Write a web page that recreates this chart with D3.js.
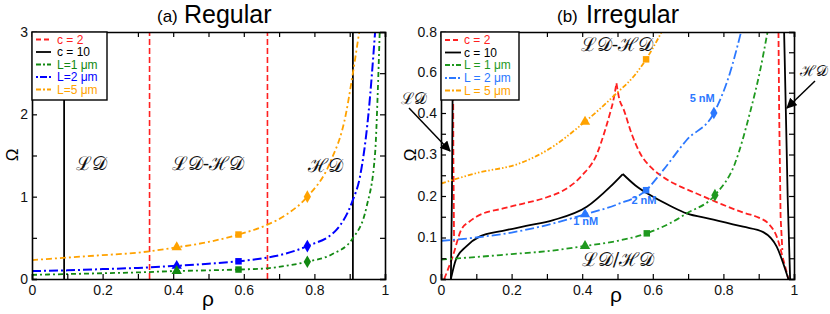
<!DOCTYPE html>
<html>
<head>
<meta charset="utf-8">
<script src="https://cdn.jsdelivr.net/npm/d3@7"></script>
<style>
  body { margin: 0; background: #fff; }
  svg { display: block; font-family: 'Liberation Sans', Arial, sans-serif; }
</style>
</head>
<body>
<svg width="830" height="314"></svg>
<script>
// ---------- data ----------
// panel (a): phase boundaries (vertical lines), rho positions
let aC2Lines = [0.333, 0.667];
let aC10Lines = [0.091, 0.909];

// panel (a): Omega vs rho for the three lengths
let aL1 = [[0, 0.05], [0.1, 0.06], [0.2, 0.07], [0.3, 0.08], [0.41, 0.097], [0.5, 0.105], [0.585, 0.115], [0.667, 0.13], [0.72, 0.16], [0.78, 0.21], [0.85, 0.30], [0.908, 0.49], [0.948, 0.88], [0.972, 1.53], [0.979, 2.21], [0.985, 3.0]];
let aL2 = [[0, 0.097], [0.1, 0.105], [0.2, 0.12], [0.3, 0.135], [0.41, 0.16], [0.5, 0.185], [0.585, 0.215], [0.667, 0.26], [0.72, 0.31], [0.78, 0.40], [0.863, 0.6], [0.908, 0.95], [0.929, 1.24], [0.953, 2.0], [0.972, 3.0]];
let aL5 = [[0, 0.23], [0.1, 0.26], [0.2, 0.29], [0.3, 0.32], [0.41, 0.385], [0.5, 0.45], [0.585, 0.54], [0.667, 0.66], [0.72, 0.78], [0.78, 1.0], [0.844, 1.41], [0.89, 2.02], [0.906, 2.42], [0.927, 3.0]];

// panel (b): c = 2 and c = 10 boundaries (two branches each, plus near-vertical edges)
let bC2Left = [[0.009, 0], [0.033, 0.054], [0.057, 0.118], [0.08, 0.138], [0.10, 0.150], [0.176, 0.170], [0.224, 0.180], [0.30, 0.197], [0.35, 0.215], [0.40, 0.25], [0.441, 0.30], [0.465, 0.359], [0.479, 0.40], [0.488, 0.46], [0.497, 0.547]];
let bC2Right = [[0.497, 0.547], [0.505, 0.47], [0.517, 0.42], [0.54, 0.35], [0.564, 0.303], [0.60, 0.265], [0.63, 0.245], [0.68, 0.222], [0.724, 0.206], [0.79, 0.182], [0.856, 0.160], [0.90, 0.148], [0.927, 0.134], [0.951, 0.102], [0.97, 0.046], [0.984, 0]];
let bC2EdgeL = [[0.034, 0.8], [0.035, 0.3], [0.037, 0.09]];
let bC2EdgeR = [[0.956, 0.8], [0.958, 0.4], [0.962, 0.15], [0.967, 0.07]];
let bC10Left = [[0.028, 0], [0.042, 0.046], [0.071, 0.078], [0.109, 0.102], [0.175, 0.116], [0.241, 0.128], [0.318, 0.142], [0.413, 0.174], [0.479, 0.222], [0.515, 0.253]];
let bC10Right = [[0.515, 0.253], [0.55, 0.226], [0.601, 0.198], [0.65, 0.176], [0.696, 0.158], [0.762, 0.145], [0.856, 0.126], [0.913, 0.113], [0.951, 0.078], [0.984, 0]];
let bC10EdgeL = [[0.034, 0.8], [0.031, 0.2], [0.028, 0]];
let bC10EdgeR = [[0.972, 0.8], [0.977, 0.4], [0.982, 0.2], [0.989, 0]];

// panel (b): Omega vs rho for the three lengths
let bL1 = [[0, 0.047], [0.1, 0.053], [0.2, 0.06], [0.3, 0.067], [0.408, 0.0795], [0.5, 0.092], [0.583, 0.11], [0.65, 0.135], [0.696, 0.158], [0.776, 0.202], [0.833, 0.279], [0.875, 0.40], [0.904, 0.61], [0.925, 0.8]];
let bL2 = [[0, 0.092], [0.1, 0.10], [0.2, 0.112], [0.3, 0.13], [0.408, 0.156], [0.5, 0.18], [0.581, 0.214], [0.63, 0.263], [0.696, 0.335], [0.773, 0.40], [0.819, 0.60], [0.85, 0.80]];
let bL5 = [[0, 0.23], [0.1, 0.255], [0.224, 0.279], [0.3, 0.31], [0.408, 0.379], [0.45, 0.42], [0.497, 0.497], [0.545, 0.579], [0.581, 0.665], [0.625, 0.8]];

// markers: [rho, Omega, shape]
let aMarks1 = [[0.41, 0.097, 'tri'], [0.585, 0.115, 'sq'], [0.78, 0.21, 'dia']];
let aMarks2 = [[0.41, 0.16, 'tri'], [0.585, 0.215, 'sq'], [0.78, 0.40, 'dia']];
let aMarks5 = [[0.41, 0.385, 'tri'], [0.585, 0.54, 'sq'], [0.78, 1.0, 'dia']];
let bMarks1 = [[0.408, 0.0795, 'tri'], [0.583, 0.11, 'sq'], [0.776, 0.202, 'dia']];
let bMarks2 = [[0.408, 0.156, 'tri'], [0.581, 0.214, 'sq'], [0.773, 0.40, 'dia']];
let bMarks5 = [[0.408, 0.379, 'tri'], [0.581, 0.665, 'sq']];

// concentration labels on the L = 2 curve in (b)
let bConcLabels = [[0.41, 0.13, '1 nM'], [0.575, 0.18, '2 nM'], [0.74, 0.452, '5 nM']];

// tick values
let xTicks = d3.range(0, 1.01, 0.1);
let xLabels = [0, 0.2, 0.4, 0.6, 0.8, 1];
let aYTicks = [0, 0.5, 1, 1.5, 2, 2.5, 3];
let aYLabels = [0, 1, 2, 3];
let bYTicks = [0, 0.05, 0.1, 0.15, 0.2, 0.25, 0.3, 0.35, 0.4, 0.5, 0.6, 0.7, 0.8];
let bYLabels = [0, 0.1, 0.2, 0.3, 0.4, 0.6, 0.8];

// ---------- setup ----------
let svg = d3.select('svg');
let plotTop = 32, plotBottom = 279;

let colA = { red: '#ff2020', black: '#000', l1: '#118811', l2: '#0000ff', l5: '#ffa200' };
let colB = { red: '#ff2020', black: '#000', l1: '#1f991f', l2: '#2b78ff', l5: '#ffa200' };

let xa = d3.scaleLinear().domain([0, 1]).range([32, 385]);
let ya = d3.scaleLinear().domain([0, 3]).range([plotBottom, plotTop]);
let xb = d3.scaleLinear().domain([0, 1]).range([441, 794]);
// the (b) axis is stretched below 0.4
let yb = d3.scaleLinear().domain([0, 0.4, 0.8]).range([plotBottom, 113, plotTop]);

let fmt = d => d === 0 ? '0' : (Number.isInteger(d) ? d : d3.format('.1f')(d));

function drawAxes(g, x, y, yTicks, yLabels) {
    let x0 = x.range()[0], x1 = x.range()[1];
    g.append('g').attr('transform', 'translate(0,' + plotBottom + ')')
        .call(d3.axisBottom(x).tickValues(xTicks).tickSize(-5).tickPadding(6)
            .tickFormat(d => xLabels.some(v => Math.abs(v - d) < 1e-6) ? fmt(+d.toFixed(1)) : ''));
    g.append('g').attr('transform', 'translate(0,' + plotTop + ')')
        .call(d3.axisTop(x).tickValues(xTicks).tickSize(-5).tickFormat(''));
    g.append('g').attr('transform', 'translate(' + x0 + ',0)')
        .call(d3.axisLeft(y).tickValues(yTicks).tickSize(-5).tickPadding(4)
            .tickFormat(d => yLabels.indexOf(d) >= 0 ? fmt(d) : ''));
    g.append('g').attr('transform', 'translate(' + x1 + ',0)')
        .call(d3.axisRight(y).tickValues(yTicks).tickSize(-5).tickFormat(''));
    g.selectAll('.domain').attr('stroke', '#000').attr('stroke-width', 1.6);
    g.selectAll('.tick line').attr('stroke', '#000').attr('stroke-width', 1.2);
    g.selectAll('.tick text').attr('font-size', 14).attr('fill', '#111')
        .attr('font-family', 'Liberation Sans, Arial, sans-serif');
}

function drawLine(g, x, y, pts, color, dash, curve, w) {
    g.append('path')
        .datum(pts)
        .attr('fill', 'none')
        .attr('stroke', color)
        .attr('stroke-width', w || 1.8)
        .attr('stroke-dasharray', dash)
        .attr('d', d3.line().x(d => x(d[0])).y(d => y(d[1])).curve(curve || d3.curveMonotoneX));
}

let shapes = { tri: d3.symbolTriangle, sq: d3.symbolSquare, dia: d3.symbolDiamond };
function drawMarks(g, x, y, marks, color) {
    g.selectAll(null).data(marks).enter().append('path')
        .attr('transform', d => 'translate(' + x(d[0]) + ',' + y(d[1]) + ')')
        .attr('d', d => d3.symbol().type(shapes[d[2]]).size(d[2] === 'sq' ? 42 : 46)())
        .attr('fill', color);
}

function legend(g, x0, w, rows, lineX, textX) {
    g.append('rect').attr('x', x0).attr('y', plotTop).attr('width', w).attr('height', 68)
        .attr('fill', '#fff').attr('stroke', '#000').attr('stroke-width', 1.4);
    rows.forEach(r => {
        g.append('line').attr('x1', lineX[0]).attr('x2', lineX[1]).attr('y1', r.y).attr('y2', r.y)
            .attr('stroke', r.color).attr('stroke-width', 1.8).attr('stroke-dasharray', r.dash);
        g.append('text').attr('x', textX).attr('y', r.y + 4).attr('fill', r.color)
            .attr('font-size', 12).text(r.label);
    });
}

// calligraphic phase labels
function phase(g, x, y, txt, size) {
    g.append('text').attr('x', x).attr('y', y).attr('text-anchor', 'middle')
        .attr('font-family', 'DejaVu Serif, serif')
        .attr('font-size', size || 19).attr('fill', '#111').text(txt);
}

// ---------- panel (a) ----------
let ga = svg.append('g');
ga.append('clipPath').attr('id', 'clipA').append('rect')
    .attr('x', 32).attr('y', plotTop).attr('width', 353).attr('height', plotBottom - plotTop);
let pa = ga.append('g').attr('clip-path', 'url(#clipA)');

aC2Lines.forEach(v => drawLine(pa, xa, ya, [[v, 0], [v, 3]], colA.red, '6,3', d3.curveLinear, 1.6));
aC10Lines.forEach(v => drawLine(pa, xa, ya, [[v, 0], [v, 3]], colA.black, null, d3.curveLinear, 1.8));
drawLine(pa, xa, ya, aL5, colA.l5, '6,3,2,3');
drawLine(pa, xa, ya, aL2, colA.l2, '9,3,2,3', null, 2);
drawLine(pa, xa, ya, aL1, colA.l1, '5,3,2,3');
drawMarks(pa, xa, ya, aMarks5, colA.l5);
drawMarks(pa, xa, ya, aMarks2, colA.l2);
drawMarks(pa, xa, ya, aMarks1, colA.l1);

phase(ga, 91, 170, 'ℒ𝒟');
phase(ga, 208, 170, 'ℒ𝒟-ℋ𝒟');
phase(ga, 325, 172, 'ℋ𝒟');

drawAxes(ga, xa, ya, aYTicks, aYLabels);

legend(ga, 32, 75, [
    { y: 39.5, color: colA.red, dash: '5,3', label: 'c = 2' },
    { y: 52, color: colA.black, dash: null, label: 'c = 10' },
    { y: 64.5, color: colA.l1, dash: '5,2,2,2', label: 'L=1 μm' },
    { y: 77, color: colA.l2, dash: '2,2,7,2', label: 'L=2 μm' },
    { y: 89.5, color: colA.l5, dash: '5,2,2,2', label: 'L=5 μm' }
], [36, 51], 57);

ga.append('text').attr('x', 157).attr('y', 22).attr('font-size', 17).text('(a)');
ga.append('text').attr('x', 184).attr('y', 23).attr('font-size', 25).text('Regular');
ga.append('text').attr('x', 208).attr('y', 306).attr('text-anchor', 'middle').attr('font-size', 21).text('ρ');
ga.append('text').attr('transform', 'translate(18,155)rotate(-90)').attr('text-anchor', 'middle')
    .attr('font-size', 17).text('Ω');

// ---------- panel (b) ----------
let gb = svg.append('g');
gb.append('clipPath').attr('id', 'clipB').append('rect')
    .attr('x', 441).attr('y', plotTop).attr('width', 353).attr('height', plotBottom - plotTop);
let pb = gb.append('g').attr('clip-path', 'url(#clipB)');

[bC2Left, bC2Right].forEach(p => drawLine(pb, xb, yb, p, colB.red, '6,3'));
[bC2EdgeL, bC2EdgeR].forEach(p => drawLine(pb, xb, yb, p, colB.red, '6,3', d3.curveLinear));
[bC10Left, bC10Right].forEach(p => drawLine(pb, xb, yb, p, colB.black, null));
[bC10EdgeL, bC10EdgeR].forEach(p => drawLine(pb, xb, yb, p, colB.black, null, d3.curveLinear));
drawLine(pb, xb, yb, bL5, colB.l5, '5,2,1.5,2,1.5,2');
drawLine(pb, xb, yb, bL2, colB.l2, '9,3,2,3');
drawLine(pb, xb, yb, bL1, colB.l1, '6,3,2,3');
drawMarks(pb, xb, yb, bMarks5, colB.l5);
drawMarks(pb, xb, yb, bMarks2, colB.l2);
drawMarks(pb, xb, yb, bMarks1, colB.l1);

gb.selectAll(null).data(bConcLabels).enter().append('text')
    .attr('x', d => xb(d[0])).attr('y', d => yb(d[1]))
    .attr('text-anchor', 'middle').attr('font-size', 11).attr('font-weight', 'bold')
    .attr('fill', colB.l2).text(d => d[2]);

phase(gb, 617, 51, 'ℒ𝒟-ℋ𝒟');
phase(gb, 618, 266, 'ℒ𝒟/ℋ𝒟');
phase(gb, 414, 104, 'ℒ𝒟', 16);
phase(gb, 814, 76, 'ℋ𝒟', 15);

// arrows pointing at the edge boundaries
svg.append('defs').append('marker').attr('id', 'arr').attr('viewBox', '0 0 10 10')
    .attr('refX', 9).attr('refY', 5).attr('markerWidth', 7).attr('markerHeight', 7)
    .attr('orient', 'auto').append('path').attr('d', 'M0,0L10,5L0,10z').attr('fill', '#000');
gb.append('line').attr('x1', 409).attr('y1', 108).attr('x2', 450).attr('y2', 151)
    .attr('stroke', '#000').attr('stroke-width', 1.5).attr('marker-end', 'url(#arr)');
gb.append('line').attr('x1', 815).attr('y1', 81).attr('x2', 787).attr('y2', 108)
    .attr('stroke', '#000').attr('stroke-width', 1.5).attr('marker-end', 'url(#arr)');

drawAxes(gb, xb, yb, bYTicks, bYLabels);

legend(gb, 441, 78, [
    { y: 40, color: colB.red, dash: '5,3', label: 'c = 2' },
    { y: 52.5, color: colB.black, dash: null, label: 'c = 10' },
    { y: 65, color: colB.l1, dash: '5,2,2,2', label: 'L = 1 μm' },
    { y: 78, color: colB.l2, dash: '2,2,7,2', label: 'L = 2 μm' },
    { y: 90.5, color: colB.l5, dash: '5,2,2,2', label: 'L = 5 μm' }
], [445, 461], 464);

gb.append('text').attr('x', 557).attr('y', 22).attr('font-size', 17).text('(b)');
gb.append('text').attr('x', 586).attr('y', 23).attr('font-size', 25).text('Irregular');
gb.append('text').attr('x', 616).attr('y', 302).attr('text-anchor', 'middle').attr('font-size', 21).text('ρ');
gb.append('text').attr('transform', 'translate(416,155)rotate(-90)').attr('text-anchor', 'middle')
    .attr('font-size', 17).text('Ω');
</script>
</body>
</html>
